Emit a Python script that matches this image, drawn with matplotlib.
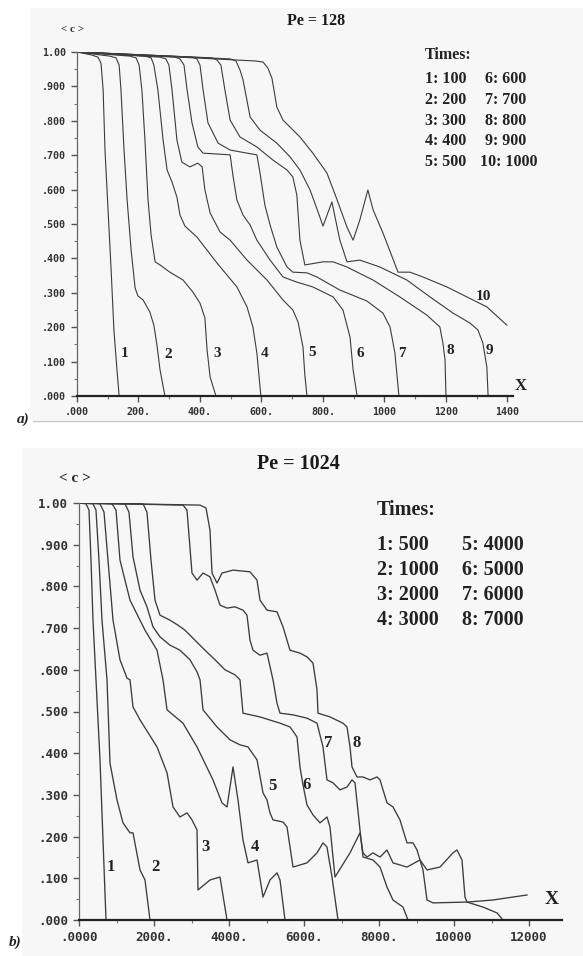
import numpy as np
import matplotlib
matplotlib.use("Agg")
import matplotlib.pyplot as plt

# ---- Pe = 128 : mean concentration profiles, times 100 ... 1000
top_times = [100, 200, 300, 400, 500, 600, 700, 800, 900, 1000]
top_x = [
    [0, 49, 68, 78, 85, 91, 101, 111, 120, 130, 137],
    [0, 107, 127, 137, 143, 153, 163, 176, 189, 198, 215, 237, 250, 260, 270, 286],
    [0, 172, 192, 202, 211, 221, 231, 241, 254, 270, 302, 345, 377, 400, 416, 423, 433, 452],
    [0, 221, 241, 250, 263, 280, 293, 309, 325, 335, 351, 390, 455, 520, 553, 572, 585, 598],
    [0, 270, 289, 299, 309, 325, 341, 367, 393, 407, 416, 433, 465, 498, 553, 618, 670, 702,
     719, 735, 741, 748],
    [0, 319, 335, 348, 358, 374, 393, 410, 498, 507, 520, 540, 563, 585, 628, 670, 715, 767,
     833, 865, 888, 898, 911],
    [0, 374, 390, 400, 410, 426, 459, 498, 553, 585, 595, 611, 628, 650, 683, 702, 748, 780,
     855, 943, 995, 1018, 1034, 1047],
    [0, 439, 455, 468, 481, 498, 530, 585, 637, 683, 702, 715, 725, 741, 800, 833, 878, 963,
     1050, 1138, 1180, 1190, 1197, 1200],
    [0, 498, 517, 530, 540, 563, 595, 650, 693, 725, 758, 790, 800, 829, 846, 855, 878, 920,
     985, 1073, 1148, 1223, 1278, 1304, 1320, 1333, 1337],
    [0, 579, 605, 621, 634, 650, 670, 725, 767, 813, 846, 878, 898, 920, 946, 963, 995, 1044,
     1083, 1125, 1203, 1268, 1333, 1398],
]
top_c = [
    [1.0, .991, .985, .968, .89, .715, .541, .366, .192, .076, 0],
    [1.0, .988, .983, .962, .89, .715, .570, .424, .314, .291, .279, .244, .206, .148, .076, 0],
    [1.0, .988, .983, .962, .89, .744, .570, .468, .390, .381, .360, .337, .302, .270, .227,
     .134, .055, 0],
    [1.0, .988, .983, .962, .89, .744, .657, .622, .578, .526, .494, .462, .387, .317, .259,
     .201, .125, 0],
    [1.0, .985, .980, .962, .89, .744, .680, .666, .677, .666, .599, .532, .477, .453, .395,
     .337, .279, .250, .215, .142, .061, 0],
    [1.0, .985, .980, .962, .89, .794, .724, .706, .701, .642, .570, .526, .497, .453, .395,
     .346, .331, .317, .288, .250, .171, .076, 0],
    [1.0, .985, .980, .962, .89, .794, .735, .715, .706, .701, .650, .555, .497, .433, .375,
     .360, .358, .346, .308, .276, .241, .201, .125, 0],
    [1.0, .983, .977, .962, .89, .802, .753, .724, .686, .657, .637, .584, .453, .381, .390,
     .390, .375, .337, .288, .235, .201, .154, .105, 0],
    [1.0, .980, .974, .948, .919, .811, .773, .735, .695, .657, .599, .520, .494, .564, .491,
     .453, .390, .395, .375, .337, .288, .241, .212, .192, .154, .084, 0],
    [1.0, .974, .971, .953, .924, .840, .802, .753, .706, .648, .570, .491, .453, .512, .599,
     .541, .474, .360, .360, .346, .317, .288, .259, .206],
]

# ---- Pe = 1024 : times 500 ... 7000
bot_times = [500, 1000, 2000, 3000, 4000, 5000, 6000, 7000]
bot_x = [
    [0, 187, 267, 320, 373, 453, 560, 640, 720],
    [0, 373, 453, 533, 613, 747, 827, 1013, 1173, 1360, 1440, 1627, 1760, 1893],
    [0, 560, 667, 773, 907, 1093, 1280, 1360, 1440, 1627, 2080, 2347, 2507, 2693, 2880, 3013,
     3147, 3173, 3493, 3760, 3947],
    [0, 880, 987, 1093, 1360, 1760, 2080, 2240, 2347, 2773, 3147, 3573, 3813, 3947, 4107, 4240,
     4373, 4507, 4747, 4907, 5093, 5280, 5360, 5493],
    [0, 1227, 1333, 1440, 1627, 1813, 1973, 2160, 2427, 2693, 2960, 3147, 3227, 3307, 3680,
     4027, 4293, 4507, 4747, 4907, 5013, 5093, 5173, 5440, 5547, 5707, 6080, 6347, 6507, 6613,
     6747, 6907],
    [0, 1707, 1813, 1920, 2027, 2160, 2427, 2640, 2827, 3093, 3360, 3627, 3893, 4160, 4293,
     4373, 4827, 5360, 5627, 5813, 5893, 5973, 6080, 6240, 6427, 6613, 6693, 6773, 6827, 7227,
     7493, 7573, 7680, 7840, 8027, 8213, 8373, 8747, 9093, 9280, 9627, 9973, 10080, 10213,
     10293, 10347, 10773, 11147, 11307],
    [0, 2773, 2880, 3013, 3147, 3307, 3493, 3627, 3760, 3947, 4160, 4373, 4480, 4560, 4640,
     4827, 5013, 5173, 5280, 5360, 5707, 6080, 6347, 6507, 6613, 6773, 6960, 7147, 7280, 7360,
     7493, 7573, 7840, 8027, 8213, 8373, 8640, 8773],
    [0, 3227, 3387, 3493, 3547, 3680, 3813, 4107, 4560, 4747, 4827, 5013, 5280, 5440, 5627,
     5893, 6080, 6240, 6347, 6373, 6693, 7040, 7147, 7227, 7280, 7413, 7573, 7760, 7947, 8027,
     8107, 8213, 8373, 8560, 8640, 8747, 8907, 9013, 9093, 9173, 9280, 9440, 10347, 11040,
     11947],
]
bot_c = [
    [1.0, .998, .983, .863, .719, .576, .384, .192, 0],
    [1.0, .998, .983, .863, .719, .576, .376, .288, .233, .209, .209, .120, .096, 0],
    [1.0, .998, .978, .863, .719, .624, .580, .576, .511, .480, .415, .353, .271, .247, .257,
     .240, .216, .072, .096, .103, 0],
    [1.0, .998, .983, .863, .767, .695, .647, .576, .504, .472, .415, .336, .281, .271, .367,
     .288, .192, .137, .144, .055, .096, .113, .096, 0],
    [1.0, .998, .978, .871, .791, .751, .703, .679, .659, .647, .624, .595, .576, .504, .463,
     .432, .420, .415, .384, .305, .288, .257, .240, .235, .223, .127, .137, .161, .185, .175,
     .103, 0],
    [1.0, .998, .978, .863, .767, .731, .719, .707, .695, .671, .647, .624, .600, .588, .576,
     .496, .487, .472, .463, .439, .367, .324, .276, .252, .233, .247, .223, .151, .103, .161,
     .209, .161, .151, .161, .151, .168, .137, .127, .144, .120, .127, .161, .168, .144, .055,
     .043, .031, .017, 0],
    [1.0, .995, .983, .832, .815, .832, .823, .791, .755, .748, .751, .743, .731, .671, .647,
     .635, .640, .576, .520, .496, .492, .484, .472, .415, .336, .329, .312, .319, .336, .329,
     .216, .151, .144, .127, .079, .048, .031, 0],
    [1.0, .995, .988, .935, .832, .808, .832, .839, .835, .815, .767, .743, .739, .703, .647,
     .640, .631, .616, .552, .496, .487, .472, .463, .415, .367, .343, .343, .336, .343, .336,
     .312, .281, .271, .240, .216, .185, .185, .168, .144, .120, .048, .041, .043, .048, .060],
]

W, H = 583, 956
fig = plt.figure(figsize=(W / 100, H / 100), dpi=100)
fig.patch.set_facecolor("white")


def fx(px):
    return px / W


def fy(py):
    return 1 - py / H


def axes_px(left, top, right, bottom):
    return fig.add_axes([fx(left), fy(bottom), fx(right) - fx(left), fy(top) - fy(bottom)])


# faint page shading behind each panel
fig.patches.append(plt.Rectangle((fx(30), fy(420)), fx(553), fy(8) - fy(420),
                                 transform=fig.transFigure, facecolor="#f7f7f7",
                                 edgecolor="none", zorder=-5))
fig.patches.append(plt.Rectangle((fx(22), fy(956)), fx(561), fy(448) - fy(956),
                                 transform=fig.transFigure, facecolor="#f7f7f7",
                                 edgecolor="none", zorder=-5))
fig.add_artist(plt.Line2D([fx(33), fx(583)], [fy(421), fy(421)], color="#c8c8c8", lw=1.0,
                          transform=fig.transFigure))

serif = "Liberation Serif"
mono = "DejaVu Sans Mono"
ink = "#3c3c3c"


def style_axes(ax, xmax, xticks, xlabels, xminor, fsize):
    ax.set_facecolor("none")
    ax.set_xlim(0, xmax)
    ax.set_ylim(0, 1.0)
    for s in ("top", "right"):
        ax.spines[s].set_visible(False)
    ax.spines["bottom"].set_linewidth(1.6)
    ax.spines["bottom"].set_color("#222222")
    ax.spines["left"].set_linewidth(0.9)
    ax.spines["left"].set_color("#666666")
    ax.spines["left"].set_bounds(0, 1.0)
    ax.set_xticks(xticks)
    ax.set_xticklabels(xlabels)
    ax.set_xticks(xminor, minor=True)
    yt = np.round(np.arange(0, 1.01, 0.1), 2)
    ax.set_yticks(yt)
    ax.set_yticklabels([".%03d" % int(round(v * 1000)) if v < 1 else "1.00" for v in yt])
    ax.set_yticks(np.arange(0.05, 1.0, 0.1), minor=True)
    ax.tick_params(axis="both", which="major", direction="out", length=4.5, width=1.0,
                   color="#555555", labelsize=fsize, labelcolor="#333333")
    ax.tick_params(axis="both", which="minor", direction="out", length=2.5, width=0.8,
                   color="#777777")
    for lab in ax.get_xticklabels() + ax.get_yticklabels():
        lab.set_fontfamily(mono)
        lab.set_fontweight("bold")


# ---------------- panel a
ax1 = axes_px(77, 52, 513, 396)
style_axes(ax1, 1418, np.arange(0, 1401, 200),
           [".000", "200.", "400.", "600.", "800.", "1000", "1200", "1400"],
           np.arange(100, 1401, 200), 7.2)
for xs, cs in zip(top_x, top_c):
    ax1.plot(xs, cs, color=ink, lw=0.8, solid_joinstyle="round")

top_lab_pos = [(125, 353), (168, 355), (217, 353), (265, 353), (312, 352), (360, 353),
               (402, 353), (450, 350), (489, 350), (483, 297)]
for i, (px, py) in enumerate(top_lab_pos):
    fig.text(fx(px), fy(py), str(i + 1), family=serif, weight="bold", fontsize=11,
             ha="center", va="center", color="#222222")

fig.text(fx(316), fy(21), "Pe = 128", family=serif, weight="bold", fontsize=11.5,
         ha="center", va="center", color="#1a1a1a")
fig.text(fx(73), fy(30), "< c >", family=serif, weight="bold", fontsize=8,
         ha="center", va="center", color="#333333")
fig.text(fx(521), fy(386), "X", family=serif, weight="bold", fontsize=12,
         ha="center", va="center", color="#222222")
fig.text(fx(23), fy(419), "a)", family=serif, weight="bold", style="italic", fontsize=11,
         ha="center", va="center", color="#222222")

fig.text(fx(425), fy(55), "Times:", family=serif, weight="bold", fontsize=11.5,
         ha="left", va="center", color="#222222")
for k in range(5):
    yy = fy(79 + k * 20.8)
    fig.text(fx(425), yy, "%d: %d" % (k + 1, top_times[k]), family=serif, weight="bold",
             fontsize=11.5, ha="left", va="center", color="#222222")
    x2 = 480 if k == 4 else 485
    fig.text(fx(x2), yy, "%d: %d" % (k + 6, top_times[k + 5]), family=serif, weight="bold",
             fontsize=11.5, ha="left", va="center", color="#222222")

# ---------------- panel b
ax2 = axes_px(79, 503, 562, 920)
style_axes(ax2, 12880, np.arange(0, 12001, 2000),
           [".0000", "2000.", "4000.", "6000.", "8000.", "10000", "12000"],
           np.arange(1000, 12001, 2000), 9.0)
for xs, cs in zip(bot_x, bot_c):
    ax2.plot(xs, cs, color=ink, lw=0.95, solid_joinstyle="round")

bot_lab_pos = [(111, 867), (155, 867), (206, 847), (255, 847), (272, 786), (307, 785),
               (328, 743), (357, 743)]
for i, (px, py) in enumerate(bot_lab_pos):
    fig.text(fx(px), fy(py), str(i + 1), family=serif, weight="bold", fontsize=12,
             ha="center", va="center", color="#222222")

fig.text(fx(298), fy(464), "Pe = 1024", family=serif, weight="bold", fontsize=14.5,
         ha="center", va="center", color="#1a1a1a")
fig.text(fx(75), fy(478), "< c >", family=serif, weight="bold", fontsize=11,
         ha="center", va="center", color="#222222")
fig.text(fx(552), fy(900), "X", family=serif, weight="bold", fontsize=14,
         ha="center", va="center", color="#222222")
fig.text(fx(15), fy(942), "b)", family=serif, weight="bold", style="italic", fontsize=11,
         ha="center", va="center", color="#222222")

fig.text(fx(377), fy(510), "Times:", family=serif, weight="bold", fontsize=14.5,
         ha="left", va="center", color="#222222")
for k in range(4):
    yy = fy(545 + k * 25)
    fig.text(fx(377), yy, "%d: %d" % (k + 1, bot_times[k]), family=serif, weight="bold",
             fontsize=14.5, ha="left", va="center", color="#222222")
    fig.text(fx(462), yy, "%d: %d" % (k + 5, bot_times[k + 4]), family=serif,
             weight="bold", fontsize=14.5, ha="left", va="center", color="#222222")

fig.savefig("out.png", dpi=100, facecolor=fig.get_facecolor())
